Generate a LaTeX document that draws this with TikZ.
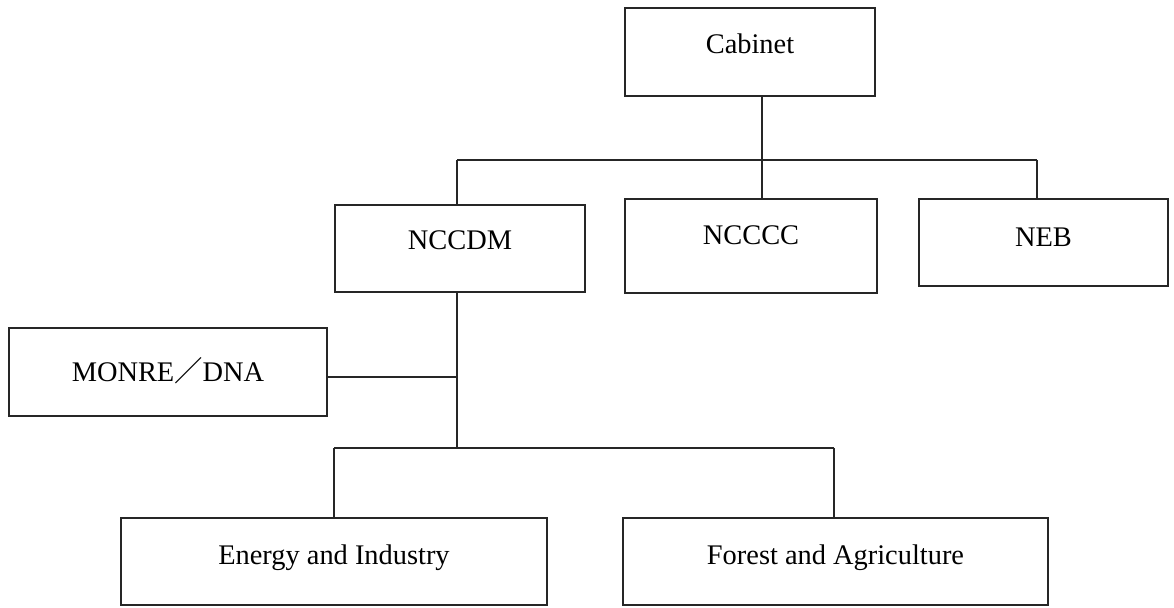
\documentclass[tikz,border=0pt]{standalone}
\usepackage{fontspec}
\setmainfont{Liberation Serif}
\newfontfamily\cjkfont{Noto Sans CJK JP}
\begin{document}
\begin{tikzpicture}[x=0.5pt,y=-0.5pt,
  box/.style={draw=black!85, line width=0.7pt, inner sep=0pt, rectangle},
  lbl/.style={anchor=base, inner sep=0pt, font=\fontsize{14.2}{16}\selectfont},
  conn/.style={draw=black!85, line width=0.7pt}]
\useasboundingbox (0,0) rectangle (1174,608);
% boxes
\node[box, minimum width=125pt, minimum height=44pt] (cab) at (750,52) {};
\node[box, minimum width=125pt, minimum height=43.5pt] (nccdm) at (460,248.5) {};
\node[box, minimum width=126pt, minimum height=47pt] (ncccc) at (751,246) {};
\node[box, minimum width=124.5pt, minimum height=43.5pt] (neb) at (1043.5,242.5) {};
\node[box, minimum width=159pt, minimum height=44pt] (monre) at (168,372) {};
\node[box, minimum width=213pt, minimum height=43.5pt] (ei) at (334,561.5) {};
\node[box, minimum width=212.5pt, minimum height=43.5pt] (fa) at (835.5,561.5) {};
% labels
\node[lbl] (cabt) at (750,54) {Cabinet};
\node[lbl] (nccdmt) at (460,250) {NCCDM};
\node[lbl] (nccct) at (751,245) {NCCCC};
\node[lbl] (nebt) at (1043.5,247) {NEB};
\node[lbl] (monret) at (168,382) {MONRE{\cjkfont ／}DNA};
\node[lbl] (eit) at (334,565) {Energy and Industry};
\node[lbl] (fat) at (835.5,565) {Forest and Agriculture};
% junction coordinates
\coordinate (top) at (762,160);
\coordinate (tl) at (457,160);
\coordinate (tr) at (1037,160);
\coordinate (mid) at (457,377);
\coordinate (low) at (457,448);
\coordinate (ll) at (334,448);
\coordinate (lr) at (834,448);
% connectors
\draw[conn] (cab.south -| top) -- (ncccc.north -| top);
\draw[conn] (tl) -- (tr);
\draw[conn] (tl) -- (nccdm.north -| tl);
\draw[conn] (tr) -- (neb.north -| tr);
\draw[conn] (nccdm.south -| low) -- (low);
\draw[conn] (monre.east |- mid) -- (mid);
\draw[conn] (ll) -- (lr);
\draw[conn] (ll) -- (ei.north -| ll);
\draw[conn] (lr) -- (fa.north -| lr);
\end{tikzpicture}
\end{document}
